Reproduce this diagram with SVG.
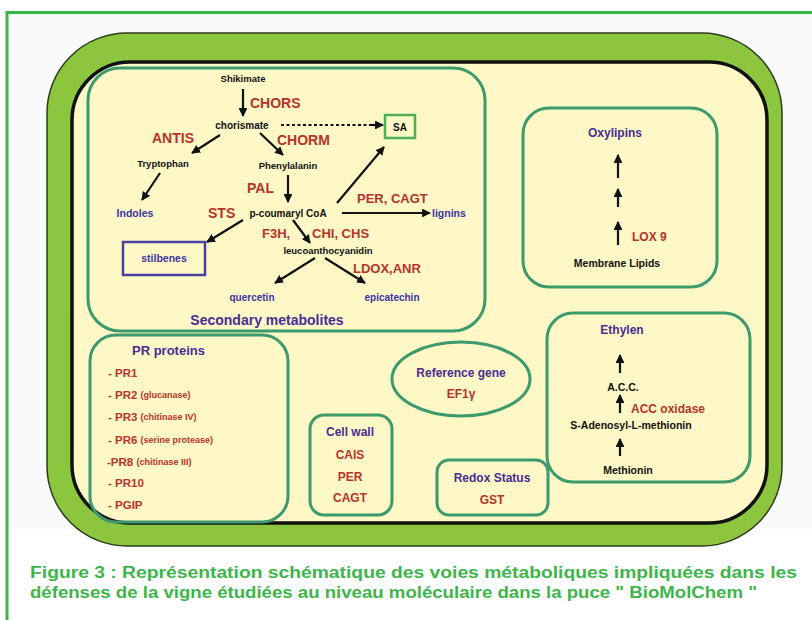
<svg xmlns="http://www.w3.org/2000/svg" width="812" height="620" viewBox="0 0 812 620">
<defs>
<marker id="ah" viewBox="0 0 10 10" refX="9" refY="5" markerWidth="4" markerHeight="4" orient="auto-start-reverse"><path d="M0,0 L10,5 L0,10 z" fill="#111"/></marker>
<style>
text{font-family:"Liberation Sans",Arial,sans-serif;font-weight:bold;dominant-baseline:central}
.k{fill:#111}
.r{fill:#b8322a}
.b{fill:#3a34a6}
.p{fill:#4a2c95}
.m{text-anchor:middle}
.box{fill:none;stroke:#3d9a6c;stroke-width:3}
.ar{stroke:#111;stroke-width:2.2;fill:none;marker-end:url(#ah)}
.cap{fill:#3db54a;font-family:"Liberation Sans",Arial,sans-serif;font-size:16px;font-weight:bold;dominant-baseline:auto}
</style>
</defs>
<rect width="812" height="620" fill="#ffffff"/>
<rect x="7" y="12" width="820" height="620" fill="#f9fafb" stroke="none"/>
<rect x="7" y="530" width="820" height="100" fill="#ffffff"/>
<path d="M7,620 V12.5 H812" fill="none" stroke="#3cb54a" stroke-width="3"/>
<g id="cell">
<rect x="47" y="33" width="735" height="513" rx="80" fill="#8cc63f" stroke="#2e3a1a" stroke-width="1.5"/>
<rect x="72" y="62" width="695" height="461" rx="58" fill="#fdf8c6" stroke="#111" stroke-width="3.5"/>
</g>
<g id="secondary">
<rect class="box" x="88" y="68" width="397" height="263" rx="32"/>
<text class="p m" x="267" y="320" font-size="14">Secondary metabolites</text>
</g>
<g id="shikimate"><text class="k m" x="243" y="78" font-size="9.5">Shikimate</text></g>
<g id="chorismate"><text class="k m" x="242" y="125" font-size="10">chorismate</text></g>
<g id="sa"><rect x="385" y="115" width="30" height="23" fill="none" stroke="#4caf50" stroke-width="2.5"/><text class="k m" x="400" y="127" font-size="10">SA</text></g>
<g id="tryptophan"><text class="k m" x="163" y="163" font-size="9.5">Tryptophan</text></g>
<g id="phenylalanin"><text class="k m" x="288" y="165" font-size="9.5">Phenylalanin</text></g>
<g id="indoles"><text class="b m" x="135" y="213" font-size="10.5">Indoles</text></g>
<g id="coumaryl"><text class="k m" x="288" y="213" font-size="10">p-coumaryl CoA</text></g>
<g id="lignins"><text class="b" x="432" y="213" font-size="10.5">lignins</text></g>
<g id="stilbenes"><rect x="123" y="242" width="82" height="33" fill="none" stroke="#4b3fa3" stroke-width="2.5"/><text class="b m" x="164" y="258" font-size="10.5">stilbenes</text></g>
<g id="leuco"><text class="k m" x="328" y="250" font-size="9.5">leucoanthocyanidin</text></g>
<g id="quercetin"><text class="b m" x="252" y="297" font-size="10">quercetin</text></g>
<g id="epicatechin"><text class="b m" x="392" y="297" font-size="10">epicatechin</text></g>
<g id="enzymes">
<text class="r" x="250" y="103" font-size="14">CHORS</text>
<text class="r" x="152" y="138" font-size="14">ANTIS</text>
<text class="r" x="277" y="140" font-size="14">CHORM</text>
<text class="r" x="247" y="188" font-size="14">PAL</text>
<text class="r" x="208" y="213" font-size="14">STS</text>
<text class="r" x="357" y="198" font-size="13">PER, CAGT</text>
<text class="r" x="262" y="233" font-size="13">F3H,<tspan x="312">CHI, CHS</tspan></text>
<text class="r" x="353" y="268" font-size="13">LDOX,ANR</text>
</g>
<g id="oxylipins">
<rect class="box" x="523" y="108" width="194" height="179" rx="26"/>
<text class="p m" x="615" y="133" font-size="12">Oxylipins</text>
<text class="r" x="632" y="237" font-size="12">LOX 9</text>
<text class="k m" x="617" y="263" font-size="10.5">Membrane Lipids</text>
</g>
<g id="pr">
<rect class="box" x="90" y="335" width="198" height="187" rx="26"/>
<text class="p" x="132" y="350" font-size="13">PR proteins</text>
<text class="r" x="108" y="373" font-size="11.5">- PR1</text>
<text class="r" x="108" y="395" font-size="11.5">- PR2 <tspan font-size="9">(glucanase)</tspan></text>
<text class="r" x="108" y="417" font-size="11.5">- PR3 <tspan font-size="9">(chitinase IV)</tspan></text>
<text class="r" x="108" y="440" font-size="11.5">- PR6 <tspan font-size="9">(serine protease)</tspan></text>
<text class="r" x="107" y="462" font-size="11.5">-PR8 <tspan font-size="9">(chitinase III)</tspan></text>
<text class="r" x="108" y="483" font-size="11.5">- PR10</text>
<text class="r" x="108" y="505" font-size="11.5">- PGIP</text>
</g>
<g id="reference">
<ellipse cx="461" cy="379" rx="69" ry="37" fill="none" stroke="#3d9a6c" stroke-width="3"/>
<text class="p m" x="461" y="373" font-size="12">Reference gene</text>
<text class="r m" x="461" y="394" font-size="12">EF1γ</text>
</g>
<g id="cellwall">
<rect class="box" x="310" y="415" width="82" height="100" rx="14"/>
<text class="p m" x="350" y="432" font-size="12">Cell wall</text>
<text class="r m" x="350" y="455" font-size="12">CAIS</text>
<text class="r m" x="350" y="477" font-size="12">PER</text>
<text class="r m" x="350" y="498" font-size="12">CAGT</text>
</g>
<g id="redox">
<rect class="box" x="437" y="460" width="111" height="55" rx="12"/>
<text class="p m" x="492" y="478" font-size="12">Redox Status</text>
<text class="r m" x="492" y="500" font-size="12">GST</text>
</g>
<g id="ethylen">
<rect class="box" x="547" y="313" width="203" height="169" rx="26"/>
<text class="p m" x="622" y="330" font-size="12">Ethylen</text>
<text class="k m" x="623" y="387" font-size="10.5">A.C.C.</text>
<text class="r" x="631" y="409" font-size="12">ACC oxidase</text>
<text class="k m" x="631" y="425" font-size="10.5">S-Adenosyl-L-methionin</text>
<text class="k m" x="628" y="470" font-size="10.5">Methionin</text>
</g>
<g id="connectors">
<line class="ar" x1="243" y1="89" x2="243" y2="116"/>
<line x1="281" y1="125" x2="376" y2="125" stroke="#111" stroke-width="2" stroke-dasharray="3,2.5"/>
<line class="ar" x1="372" y1="125" x2="383" y2="125"/>
<line class="ar" x1="220" y1="135" x2="192" y2="153"/>
<line class="ar" x1="260" y1="133" x2="283" y2="155"/>
<line class="ar" x1="160" y1="173" x2="142" y2="200"/>
<line class="ar" x1="288" y1="175" x2="288" y2="202"/>
<line class="ar" x1="337" y1="203" x2="384" y2="147"/>
<line class="ar" x1="342" y1="213" x2="430" y2="213"/>
<line class="ar" x1="243" y1="220" x2="207" y2="242"/>
<line class="ar" x1="293" y1="220" x2="310" y2="243"/>
<line class="ar" x1="315" y1="258" x2="275" y2="283"/>
<line class="ar" x1="325" y1="258" x2="365" y2="283"/>
<line class="ar" x1="618" y1="178" x2="618" y2="155"/>
<line class="ar" x1="618" y1="207" x2="618" y2="189"/>
<line class="ar" x1="618" y1="245" x2="618" y2="222"/>
<line class="ar" x1="620" y1="373" x2="620" y2="355"/>
<line class="ar" x1="620" y1="413" x2="620" y2="395"/>
<line class="ar" x1="620" y1="456" x2="620" y2="439"/>
</g>
<g id="caption">
<text class="cap" x="30" y="578" textLength="767" lengthAdjust="spacingAndGlyphs">Figure 3 : Représentation schématique des voies métaboliques impliquées dans les</text>
<text class="cap" x="30" y="598" textLength="727" lengthAdjust="spacingAndGlyphs">défenses de la vigne étudiées au niveau moléculaire dans la puce " BioMolChem "</text>
</g>
</svg>
